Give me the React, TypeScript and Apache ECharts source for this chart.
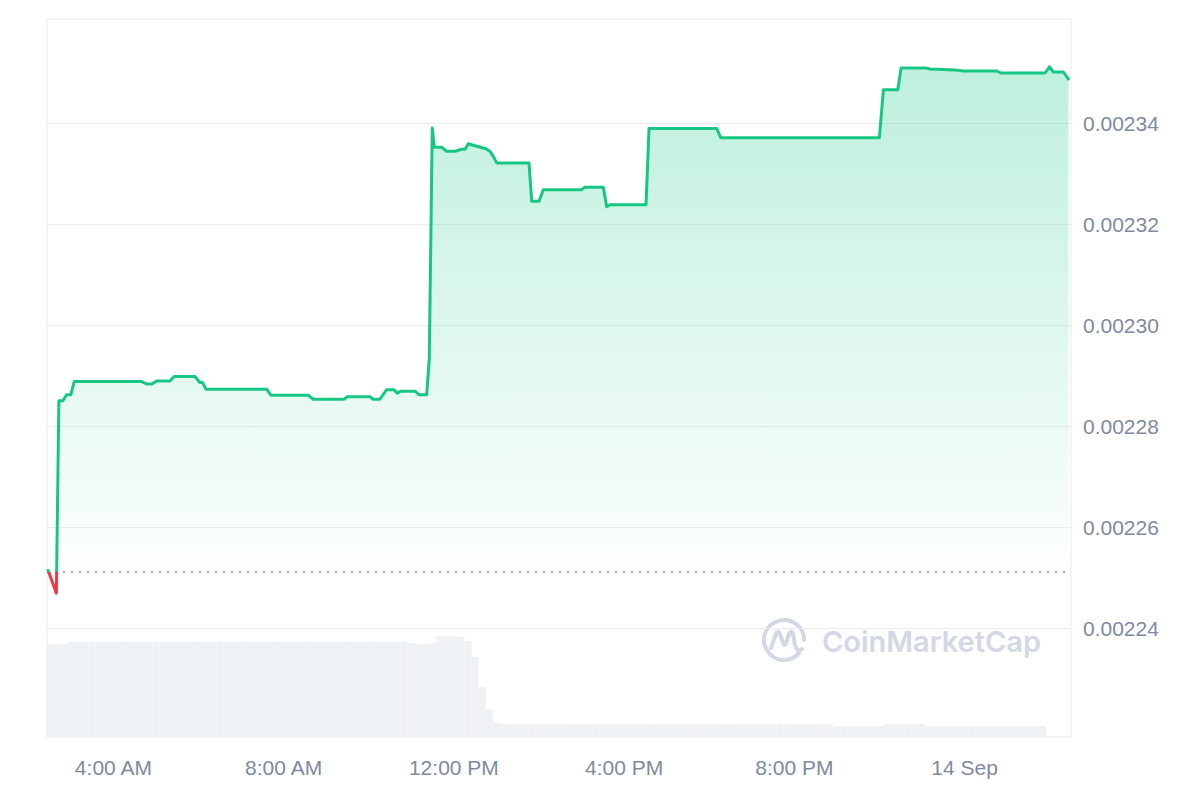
import React, { useEffect, useRef } from "react";
import * as echarts from "echarts";

// Hours since 13 Sep 00:00
const priceHours = [
  2.468, 2.66, 2.719, 2.813, 2.9, 3.001, 3.079, 4.663, 4.787, 4.905, 5.015, 5.328, 5.429, 5.915, 6.033,
  6.096, 6.174, 7.6, 7.702, 8.578, 8.696, 9.417, 9.495, 10.028, 10.106, 10.263, 10.421, 10.592, 10.67,
  10.75, 11.086, 11.18, 11.361, 11.422, 11.492, 11.539, 11.713, 11.831, 12.026, 12.183, 12.261, 12.338,
  12.456, 12.754, 12.848, 12.926, 13.006, 13.765, 13.829, 14.0, 14.101, 15.004, 15.081, 15.511, 15.591,
  15.669, 16.515, 16.585, 18.176, 18.27, 21.998, 22.092, 22.43, 22.508, 23.095, 23.189, 23.777, 23.972,
  24.757, 24.851, 25.892, 25.993, 26.087, 26.322, 26.44,
];

const prices = [
  0.0022514, 0.0022469, 0.002285, 0.002285, 0.0022862, 0.0022862, 0.0022888, 0.0022888, 0.0022883,
  0.0022883, 0.0022889, 0.0022889, 0.0022898, 0.0022898, 0.0022886, 0.0022886, 0.0022873, 0.0022873,
  0.0022861, 0.0022861, 0.0022853, 0.0022853, 0.0022858, 0.0022858, 0.0022853, 0.0022853, 0.0022872,
  0.0022872, 0.0022865, 0.0022869, 0.0022869, 0.0022862, 0.0022862, 0.0022933, 0.002339, 0.0023352,
  0.0023352, 0.0023344, 0.0023344, 0.0023348, 0.0023348, 0.0023359, 0.0023356, 0.0023349, 0.0023344,
  0.0023334, 0.0023321, 0.0023321, 0.0023245, 0.0023245, 0.0023268, 0.0023268, 0.0023273, 0.0023273,
  0.0023234, 0.0023238, 0.0023238, 0.0023389, 0.0023389, 0.0023371, 0.0023371, 0.0023466, 0.0023466,
  0.0023509, 0.0023509, 0.0023507, 0.0023505, 0.0023503, 0.0023503, 0.0023499, 0.0023499, 0.0023511,
  0.0023501, 0.0023501, 0.0023487,
];

const openPrice = 0.0022511;

// Volume bars, one every 10 minutes starting 2:30 AM (relative units)
const volumeStartHour = 2.5;
const volumeStepHours = 1 / 6;
const volumes = [
  93, 93, 93,
  95, 95, 95, 95, 95, 95, 95, 95, 95, 95, 95, 95, 95, 95, 95, 95, 95, 95, 95, 95, 95, 95, 95, 95,
  95, 95, 95, 95, 95, 95, 95, 95, 95, 95, 95, 95, 95, 95, 95, 95, 95, 95, 95, 95, 95, 95, 95, 95,
  94, 93, 93, 94,
  101, 101, 101, 100,
  96, 80, 50, 28, 14,
  13, 13, 13, 13, 13, 13, 13, 13, 13, 13, 13, 13, 13, 13, 13, 13, 13, 13, 13, 13, 13, 13, 13, 13,
  13, 13, 13, 13, 13, 13, 13, 13, 13, 13, 13, 13, 13, 13, 13, 13, 13, 13, 13, 13, 13, 13, 13,
  11, 11, 11, 11, 11, 11, 11,
  13, 13, 13, 13, 13, 13,
  11, 11, 11, 11, 11, 11, 11, 11, 11, 11, 11, 11, 11, 11, 11, 11, 11,
  0.5, 0.5, 0.5,
];
const volumeAxisMax = 718;

const xMin = 2.44;
const xMax = 26.5;
const xTickHours = [4, 8, 12, 16, 20, 24];
const xTickLabels = ["4:00 AM", "8:00 AM", "12:00 PM", "4:00 PM", "8:00 PM", "14 Sep"];
const yMin = 0.00222;
const yMax = 0.00236;
const yStep = 0.00002;

const LOGO_PATH =
  "M 39.3 36.9 A 20 20 0 1 1 44 24 M 11 32 L 16 18 Q 18 13 20 18 L 23 27 Q 24.5 31 26 27 L 29 18 Q 31 13 33 18 L 35 29 Q 37 37 42 33";

const GREEN = "#16c784";
const RED = "#ea3943";
const LABEL = "#808a9d";
const FONT = "'Liberation Sans', Arial, Helvetica, sans-serif";

export default function App() {
  const ref = useRef<HTMLDivElement>(null);
  useEffect(() => {
    if (!ref.current) return;
    try {
      echarts.graphic.registerShape("cmcLogo", echarts.graphic.extendPath(LOGO_PATH, {}) as any);
    } catch (e) {}
    const chart = echarts.init(ref.current, undefined, { renderer: "svg" });
    const priceData = priceHours.map((h, i) => [h, prices[i]]);
    const volumeData = volumes.map((v, i) => [volumeStartHour + i * volumeStepHours, v]);
    const baselineData = [
      [xMin, openPrice],
      [xMax, openPrice],
    ];

    // split the stroke colour at the opening price (position inside the line's box)
    const pMax = Math.max(...prices);
    const pMin = Math.min(...prices);
    const split = (pMax - openPrice) / (pMax - pMin);
    const lineGradient = new echarts.graphic.LinearGradient(0, 0, 0, 1, [
      { offset: 0, color: GREEN },
      { offset: split, color: GREEN },
      { offset: split, color: RED },
      { offset: 1, color: RED },
    ]);

    const option: any = {
      animation: false,
      backgroundColor: "#ffffff",
      grid: [
        {
          // price grid: 0.00222 .. 0.00236
          left: 47,
          right: 129,
          top: 22,
          bottom: 71,
          show: false,
        },
        {
          // volume grid + frame
          left: 47,
          right: 129,
          top: 19,
          bottom: 63,
          show: true,
          borderColor: "#e8ebef",
          borderWidth: 1,
          backgroundColor: "transparent",
        },
      ],
      xAxis: [
        {
          type: "value",
          gridIndex: 0,
          min: xMin,
          max: xMax,
          show: false,
        },
        {
          type: "value",
          gridIndex: 1,
          min: xMin,
          max: xMax,
          axisLine: { show: false },
          axisTick: { show: false },
          splitLine: { show: false },
          axisLabel: {
            customValues: xTickHours,
            formatter: (v: number) => {
              const idx = xTickHours.findIndex((t) => Math.abs(t - v) < 1e-6);
              return idx >= 0 ? xTickLabels[idx] : "";
            },
            color: LABEL,
            fontSize: 21,
            fontFamily: FONT,
            margin: 20,
          },
        },
      ],
      yAxis: [
        {
          type: "value",
          gridIndex: 0,
          position: "right",
          min: yMin,
          max: yMax,
          interval: yStep,
          axisLine: { show: false },
          axisTick: { show: false },
          splitLine: {
            show: true,
            showMinLine: false,
            showMaxLine: false,
            lineStyle: { color: "#eaedf0", width: 1 },
          },
          axisLabel: {
            showMinLabel: false,
            showMaxLabel: false,
            formatter: (v: number) => v.toFixed(5),
            color: LABEL,
            fontSize: 21,
            fontFamily: FONT,
            margin: 12,
          },
        },
        {
          type: "value",
          gridIndex: 1,
          show: false,
          min: 0,
          max: volumeAxisMax,
          splitLine: { show: false },
        },
      ],
      graphic: [
        {
          type: "group",
          silent: true,
          z: 0,
          children: [
            {
              type: "cmcLogo",
              x: 760,
              y: 616,
              scaleX: 1,
              scaleY: 1,
              style: { fill: "none", stroke: "#d3d8e4", lineWidth: 4, lineCap: "round", lineJoin: "round" },
            },
            {
              type: "text",
              x: 822,
              y: 641,
              style: {
                text: "CoinMarketCap",
                fill: "#d3d8e4",
                font: "600 29px Inter, 'Noto Sans', sans-serif",
                textVerticalAlign: "middle",
                textAlign: "left",
              },
            },
          ],
        },
      ],
      series: [
        {
          type: "bar",
          name: "Volume",
          xAxisIndex: 1,
          yAxisIndex: 1,
          data: volumeData,
          barWidth: "100%",
          z: 1,
          itemStyle: { color: "#eff2f5" },
          silent: true,
        },
        {
          type: "line",
          name: "Open",
          xAxisIndex: 0,
          yAxisIndex: 0,
          data: baselineData,
          showSymbol: false,
          symbol: "none",
          silent: true,
          z: 2,
          lineStyle: { color: "#a3a9b6", type: [2, 6], width: 2 },
        },
        {
          type: "line",
          name: "Price",
          xAxisIndex: 0,
          yAxisIndex: 0,
          data: priceData,
          showSymbol: false,
          symbol: "none",
          z: 3,
          lineStyle: { width: 3, cap: "round", join: "round", color: lineGradient },
          areaStyle: {
            origin: openPrice,
            color: new echarts.graphic.LinearGradient(0, 0, 0, 1, [
              { offset: 0, color: "rgba(22,199,132,0.40)" },
              { offset: 1, color: "rgba(22,199,132,0.0)" },
            ]),
          },
        },
      ],
    };
    chart.setOption(option);
    return () => chart.dispose();
  }, []);
  return <div ref={ref} style={{ position: "fixed", left: 0, top: 0, width: 1200, height: 800 }} />;
}
